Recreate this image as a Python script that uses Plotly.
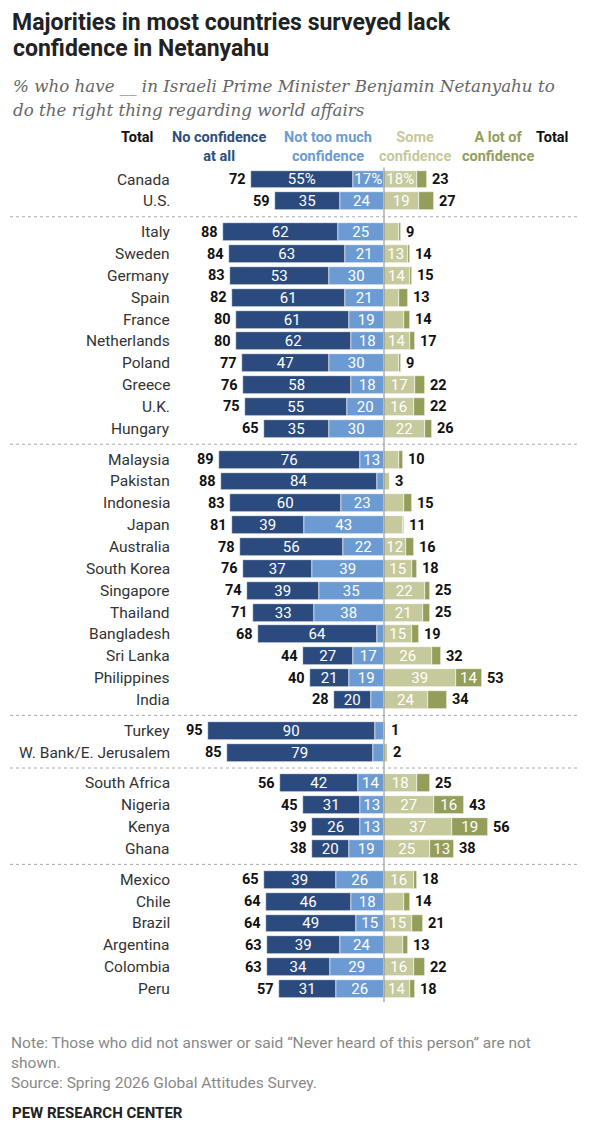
import plotly.graph_objects as go

W, H = 616, 1132
PAD = 8  # default body margin of the html page
FW, FH = W - 2 * PAD, H - 2 * PAD

countries = ["Canada", "U.S.",
             "Italy", "Sweden", "Germany", "Spain", "France", "Netherlands", "Poland", "Greece", "U.K.", "Hungary",
             "Malaysia", "Pakistan", "Indonesia", "Japan", "Australia", "South Korea", "Singapore", "Thailand",
             "Bangladesh", "Sri Lanka", "Philippines", "India",
             "Turkey", "W. Bank/E. Jerusalem",
             "South Africa", "Nigeria", "Kenya", "Ghana",
             "Mexico", "Chile", "Brazil", "Argentina", "Colombia", "Peru"]
region = [0, 0] + [1] * 10 + [2] * 12 + [3] * 2 + [4] * 4 + [5] * 6

no_conf = [55, 35, 62, 63, 53, 61, 61, 62, 47, 58, 55, 35, 76, 84, 60, 39, 56, 37, 39, 33, 64, 27, 21, 20,
           90, 79, 42, 31, 26, 20, 39, 46, 49, 39, 34, 31]
not_much = [17, 24, 25, 21, 30, 21, 19, 18, 30, 18, 20, 30, 13, 4, 23, 43, 22, 39, 35, 38, 4, 17, 19, 7,
            5, 6, 14, 13, 13, 19, 26, 18, 15, 24, 29, 26]
some = [18, 19, 8, 13, 14, 8, 11, 14, 8, 17, 16, 22, 8, 3, 11, 10, 12, 15, 22, 21, 15, 26, 39, 24,
        1, 2, 18, 27, 37, 25, 16, 11, 15, 10, 16, 14]
a_lot = [5, 8, 1, 1, 1, 5, 3, 3, 1, 5, 6, 4, 2, 0, 4, 1, 4, 3, 3, 4, 4, 5, 14, 10,
         0, 0, 7, 16, 19, 13, 2, 3, 6, 3, 6, 3]
total_no = [72, 59, 88, 84, 83, 82, 80, 80, 77, 76, 75, 65, 89, 88, 83, 81, 78, 76, 74, 71, 68, 44, 40, 28,
            95, 85, 56, 45, 39, 38, 65, 64, 64, 63, 63, 57]
total_yes = [23, 27, 9, 14, 15, 13, 14, 17, 9, 22, 22, 26, 10, 3, 15, 11, 16, 18, 25, 25, 19, 32, 53, 34,
             1, 2, 25, 43, 56, 38, 18, 14, 21, 13, 22, 18]

C_NO = "#2b4a7e"
C_NOTMUCH = "#6b9bd2"
C_SOME = "#c6c99b"
C_ALOT = "#949e5a"

FONT = "Roboto, Liberation Sans, sans-serif"

# layout in page pixels
CENTER_PX = 384
PX_PER_PT = 1.85
FIRST_ROW_PX = 179.5
ROW_PX = 21.85
GAP = 0.41

ypos = [i + GAP * g for i, g in enumerate(region)]


def px_x(px):
    return (px - CENTER_PX) / PX_PER_PT


def pap_x(px):
    return (px - PAD) / FW


def pap_y(py):
    return 1 - (py - PAD) / FH


def seg_text(vals):
    out = []
    for i, v in enumerate(vals):
        if v < 12:
            out.append("")
        elif i == 0:
            out.append(f"{v}%")
        else:
            out.append(str(v))
    return out


fig = go.Figure()
bar_style = dict(orientation="h", width=0.82, textposition="inside", insidetextanchor="middle",
                 textangle=0, textfont=dict(color="white", size=15, family=FONT),
                 marker_line=dict(color="white", width=0.6), hoverinfo="skip", cliponaxis=False)

fig.add_trace(go.Bar(y=ypos, x=[-v for v in not_much], marker_color=C_NOTMUCH,
                     text=seg_text(not_much), **bar_style))
fig.add_trace(go.Bar(y=ypos, x=[-v for v in no_conf], marker_color=C_NO,
                     text=seg_text(no_conf), **bar_style))
fig.add_trace(go.Bar(y=ypos, x=some, marker_color=C_SOME, text=seg_text(some), **bar_style))
fig.add_trace(go.Bar(y=ypos, x=a_lot, marker_color=C_ALOT, text=seg_text(a_lot), **bar_style))

ann = []
for i, c in enumerate(countries):
    ann.append(dict(x=px_x(172), y=ypos[i], text=c, xanchor="right", showarrow=False,
                    font=dict(size=15.5, color="#333", family=FONT)))
    ann.append(dict(x=-(no_conf[i] + not_much[i]), y=ypos[i], text=f"<b>{total_no[i]}</b>", xanchor="right",
                    xshift=-3, showarrow=False, font=dict(size=14.5, color="#111", family=FONT)))
    ann.append(dict(x=some[i] + a_lot[i], y=ypos[i], text=f"<b>{total_yes[i]}</b>", xanchor="left",
                    xshift=3, showarrow=False, font=dict(size=14.5, color="#111", family=FONT)))

for px, txt, col in [(137, "Total", "#111"),
                     (219, "No confidence<br>at all", "#2c4f7e"),
                     (328, "Not too much<br>confidence", "#6b9bd2"),
                     (415, "Some<br>confidence", "#c6c99b"),
                     (498, "A lot of<br>confidence", "#949e5a"),
                     (552, "Total", "#111")]:
    ann.append(dict(xref="paper", yref="paper", x=pap_x(px), y=pap_y(127), yanchor="top", xanchor="center",
                    text=f"<b>{txt}</b>", showarrow=False,
                    font=dict(size=14.5, color=col, family=FONT)))

ann.append(dict(xref="paper", yref="paper", x=pap_x(11), y=1, xanchor="left", yanchor="top", borderpad=0,
                text="<b>Majorities in most countries surveyed lack</b>", showarrow=False,
                font=dict(size=23, color="#222", family=FONT)))
ann.append(dict(xref="paper", yref="paper", x=pap_x(11), y=pap_y(48), xanchor="left", yanchor="middle",
                text="<b>confidence in Netanyahu</b>", showarrow=False,
                font=dict(size=23, color="#222", family=FONT)))
for py, line in [(86, "% who have __ in Israeli Prime Minister Benjamin Netanyahu to"),
                 (110, "do the right thing regarding world affairs")]:
    ann.append(dict(xref="paper", yref="paper", x=pap_x(11), y=pap_y(py), xanchor="left", yanchor="middle",
                    text=f"<i>{line}</i>", showarrow=False,
                    font=dict(size=16.7, color="#666", family="DejaVu Serif, Georgia, serif")))
ann.append(dict(xref="paper", yref="paper", x=pap_x(9), y=pap_y(1032), xanchor="left", yanchor="top", align="left",
                text="Note: Those who did not answer or said “Never heard of this person” are not<br>shown.<br>"
                     "Source: Spring 2026 Global Attitudes Survey.", showarrow=False,
                font=dict(size=15.5, color="#888", family=FONT)))
ann.append(dict(xref="paper", yref="paper", x=pap_x(10), y=pap_y(1102), xanchor="left", yanchor="top", align="left",
                text="<b>PEW RESEARCH CENTER</b>", showarrow=False,
                font=dict(size=15, color="#222", family=FONT)))

shapes = [dict(type="line", x0=0, x1=0, y0=ypos[0] - 0.55, y1=ypos[-1] + 0.6, line=dict(color="#888", width=1),
               layer="above")]
for i in range(1, len(ypos)):
    if region[i] != region[i - 1]:
        ym = (ypos[i] + ypos[i - 1]) / 2
        shapes.append(dict(type="line", x0=px_x(10), x1=px_x(578), y0=ym, y1=ym,
                           line=dict(color="#aaa", width=1, dash="dot")))

fig.update_layout(
    width=FW, height=FH, margin=dict(l=0, r=0, t=0, b=0),
    barmode="relative", bargap=0, showlegend=False,
    plot_bgcolor="white", paper_bgcolor="white",
    uniformtext=dict(mode="show", minsize=14),
    annotations=ann, shapes=shapes,
)
fig.update_xaxes(range=[px_x(PAD), px_x(PAD + FW)], visible=False, fixedrange=True)
fig.update_yaxes(range=[(PAD + FH - FIRST_ROW_PX) / ROW_PX, (PAD - FIRST_ROW_PX) / ROW_PX],
                 visible=False, fixedrange=True)

fig.write_html("out.html")
